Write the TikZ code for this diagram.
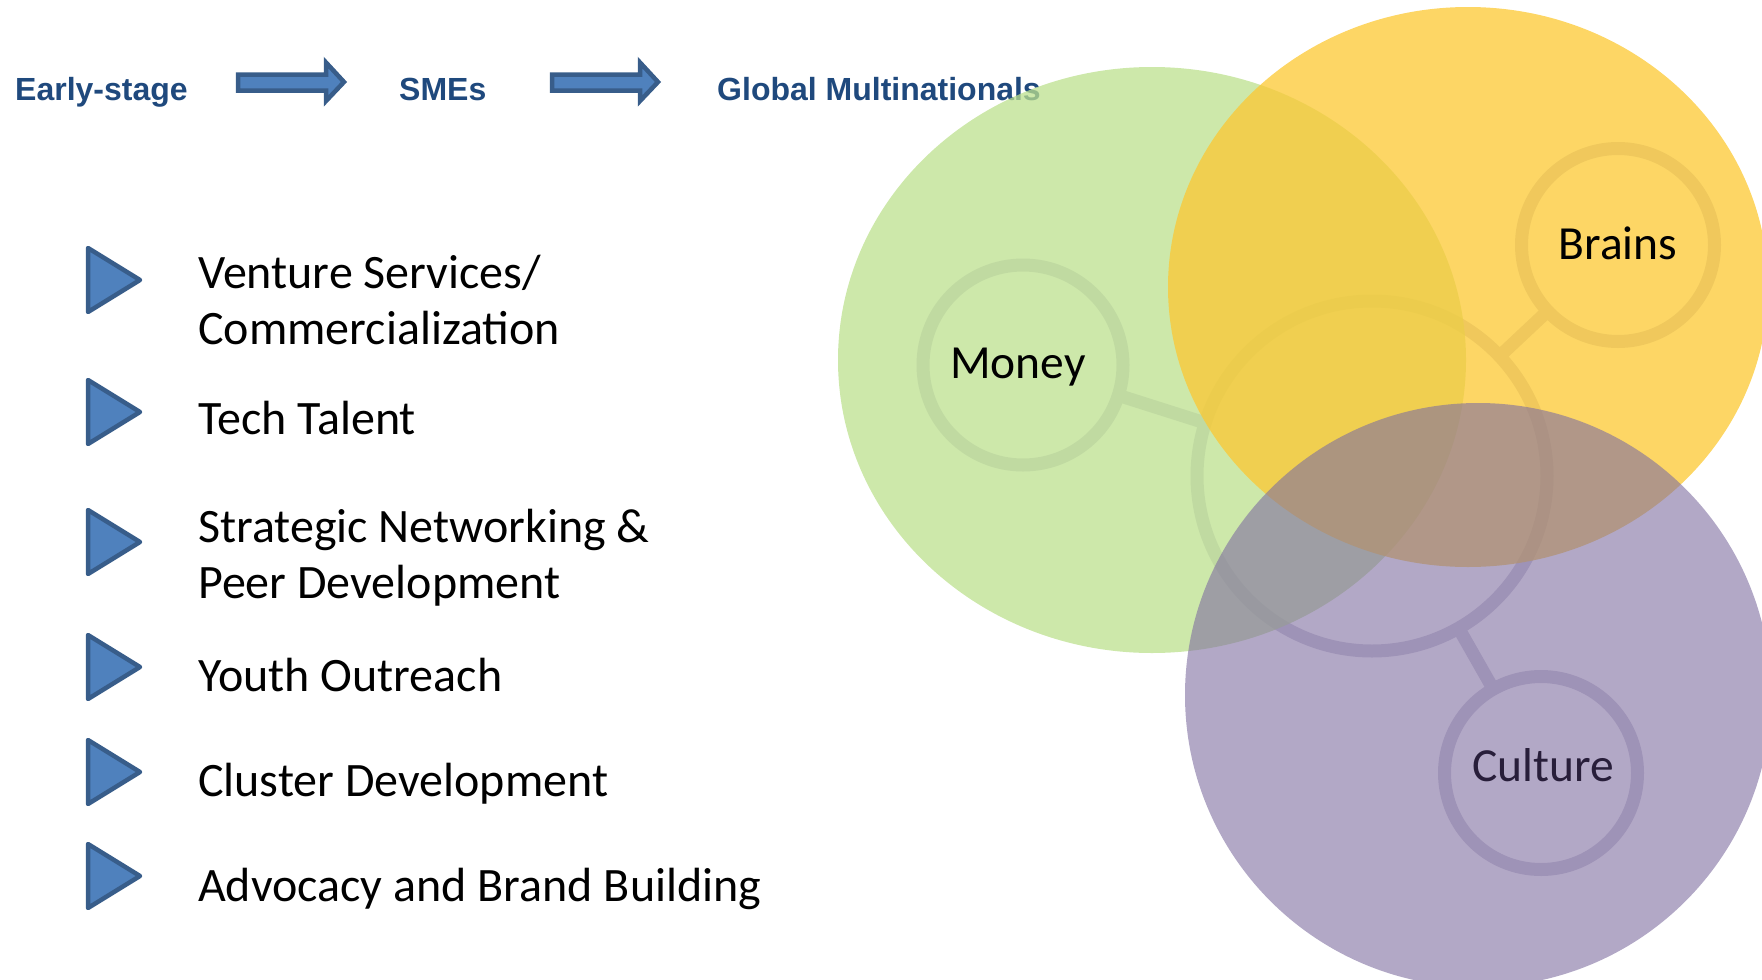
\documentclass[tikz,border=0pt]{standalone}
\usepackage{fontspec}
\setmainfont{Carlito}
\newfontfamily\headfont{Liberation Sans}
\definecolor{hdblue}{RGB}{31,73,125}
\definecolor{arrfill}{RGB}{79,129,189}
\definecolor{arrline}{RGB}{56,93,138}
\definecolor{moneyg}{RGB}{188,224,142}
\definecolor{brainy}{RGB}{252,200,50}
\definecolor{culturep}{RGB}{127,110,160}
\definecolor{ringc}{RGB}{205,203,218}
\definecolor{culttext}{RGB}{40,30,58}
\begin{document}
\begin{tikzpicture}[x=1pt,y=-1pt,
  hdr/.style={font=\headfont\bfseries\fontsize{32}{38}\selectfont, text=hdblue, anchor=base west, inner sep=0pt},
  item/.style={font=\fontsize{48}{56}\selectfont, anchor=base west, inner sep=0pt},
  blockarrow/.style={fill=arrfill, draw=arrline, line width=4.5pt, line join=miter},
  bullettri/.style={fill=arrfill, draw=arrline, line width=4.5pt, line join=round},
  ring/.style={circle, draw=ringc, line width=13pt, inner sep=0pt},
  ringlink/.style={draw=ringc, line width=13pt, shorten <=-5pt, shorten >=-5pt},
  lbl/.style={font=\fontsize{47.5}{56}\selectfont, anchor=base, inner sep=0pt}]
\useasboundingbox (0,0) rectangle (1762,980);
\clip (0,0) rectangle (1762,980);

% header
\node[hdr] (early) at (15,100) {Early-stage};
\node[hdr] (smes) at (399,100) {SMEs};
\node[hdr] (global) at (717,100) {Global Multinationals};
\foreach \dx in {0,314}
  \draw[blockarrow] ({238+\dx},74.5) -- ({326+\dx},74.5) -- ({326+\dx},62.5) -- ({344+\dx},82) -- ({326+\dx},101) -- ({326+\dx},90.5) -- ({238+\dx},90.5) -- cycle;

% bullets
\foreach \c in {280,412,542,667,772,876}
  \draw[bullettri] (88,\c-32) -- (140,\c) -- (88,\c+32) -- cycle;

% list
\node[item] (venture) at (198,288) {\begin{tabular}[t]{@{}l@{}}Venture Services/\\Commercialization\end{tabular}};
\node[item] (tech) at (198,434) {Tech Talent};
\node[item] (strategic) at (198,542) {\begin{tabular}[t]{@{}l@{}}Strategic Networking \&\\Peer Development\end{tabular}};
\node[item] (youth) at (198,691) {Youth Outreach};
\node[item] (cluster) at (198,796) {Cluster Development};
\node[item] (advocacy) at (198,901) {Advocacy and Brand Building};

% faint rings beneath
\node[ring, minimum size=350pt] (hub) at (1372,476) {};
\node[ring, minimum size=200pt] (mring) at (1023,365) {};
\node[ring, minimum size=193pt] (bring) at (1618,245) {};
\node[ring, minimum size=193pt] (cring) at (1541,773) {};
\draw[ringlink] (mring) -- (hub);
\draw[ringlink] (bring) -- (hub);
\draw[ringlink] (cring) -- (hub);

% coloured sets
\fill[moneyg, opacity=0.75] (1152,360) ellipse [x radius=314, y radius=293];
\fill[brainy, opacity=0.75] (1468,287) ellipse [x radius=300, y radius=280];
\fill[culturep, opacity=0.6] (1478,695) ellipse [x radius=293, y radius=292];

% labels
\node[lbl] (money) at (1018,378) {Money};
\node[lbl] (brains) at (1618,259) {Brains};
\node[lbl, text=culttext] (culture) at (1543,781) {Culture};
\end{tikzpicture}
\end{document}
